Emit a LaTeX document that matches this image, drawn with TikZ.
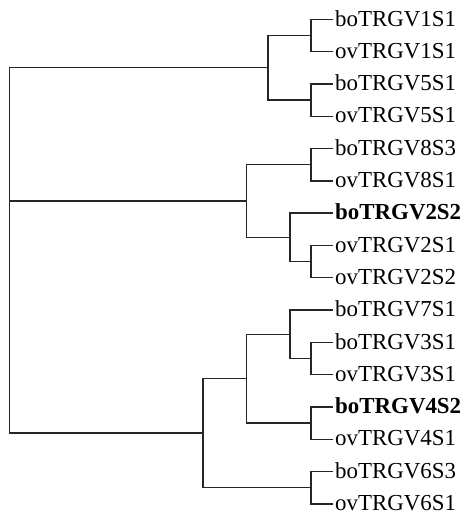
\documentclass[tikz,border=0pt]{standalone}
\usepackage{fontspec}
\setmainfont{Liberation Serif}
\begin{document}
\begin{tikzpicture}[x=1pt,y=-1pt,
  leaf/.style={anchor=west,inner xsep=2pt,inner ysep=0pt,text height=15.5pt,text depth=2pt,
    font=\fontsize{22.9}{24}\selectfont},
  boldleaf/.style={leaf,font=\fontsize{22.9}{24}\selectfont\bfseries},
  branch/.style={draw=black!85,line width=1.4pt}]
\useasboundingbox (0,0) rectangle (463,515);
% leaves
\node[leaf] (bo1) at (333,19.3) {boTRGV1S1};
\node[leaf] (ov1) at (333,51.6) {ovTRGV1S1};
\node[leaf] (bo5) at (333,83.9) {boTRGV5S1};
\node[leaf] (ov5) at (333,116.2) {ovTRGV5S1};
\node[leaf] (bo8) at (333,148.5) {boTRGV8S3};
\node[leaf] (ov8) at (333,180.8) {ovTRGV8S1};
\node[boldleaf] (bo2) at (333,213.1) {boTRGV2S2};
\node[leaf] (ov21) at (333,245.4) {ovTRGV2S1};
\node[leaf] (ov22) at (333,277.7) {ovTRGV2S2};
\node[leaf] (bo7) at (333,310.0) {boTRGV7S1};
\node[leaf] (bo3) at (333,342.3) {boTRGV3S1};
\node[leaf] (ov3) at (333,374.6) {ovTRGV3S1};
\node[boldleaf] (bo4) at (333,406.9) {boTRGV4S2};
\node[leaf] (ov4) at (333,439.2) {ovTRGV4S1};
\node[leaf] (bo6) at (333,471.5) {boTRGV6S3};
\node[leaf] (ov6) at (333,503.8) {ovTRGV6S1};
% internal nodes
\coordinate (P1) at (311,35.45);
\coordinate (P5) at (311,100.05);
\coordinate (P8) at (311,164.65);
\coordinate (P2) at (311,261.55);
\coordinate (P3) at (311,358.45);
\coordinate (P4) at (311,423.05);
\coordinate (P6) at (311,487.65);
\coordinate (A) at (268,67.75);
\coordinate (Bs) at (290,237.33);
\coordinate (B) at (246.5,200.99);
\coordinate (C1a) at (290,334.23);
\coordinate (C1) at (246.5,378.64);
\coordinate (C) at (203,433.14);
\coordinate (R) at (9.5,200.99);
% connectors
\draw[branch] (P1) |- (bo1.west);
\draw[branch] (P1) |- (ov1.west);
\draw[branch] (P5) |- (bo5.west);
\draw[branch] (P5) |- (ov5.west);
\draw[branch] (P8) |- (bo8.west);
\draw[branch] (P8) |- (ov8.west);
\draw[branch] (P2) |- (ov21.west);
\draw[branch] (P2) |- (ov22.west);
\draw[branch] (P3) |- (bo3.west);
\draw[branch] (P3) |- (ov3.west);
\draw[branch] (P4) |- (bo4.west);
\draw[branch] (P4) |- (ov4.west);
\draw[branch] (P6) |- (bo6.west);
\draw[branch] (P6) |- (ov6.west);
\draw[branch] (A) |- (P1);
\draw[branch] (A) |- (P5);
\draw[branch] (Bs) |- (bo2.west);
\draw[branch] (Bs) |- (P2);
\draw[branch] (B) |- (P8);
\draw[branch] (B) |- (Bs);
\draw[branch] (C1a) |- (bo7.west);
\draw[branch] (C1a) |- (P3);
\draw[branch] (C1) |- (C1a);
\draw[branch] (C1) |- (P4);
\draw[branch] (C) |- (C1);
\draw[branch] (C) |- (P6);
\draw[branch] (R) |- (A);
\draw[branch] (R) |- (B);
\draw[branch] (R) |- (C);
\end{tikzpicture}
\end{document}
